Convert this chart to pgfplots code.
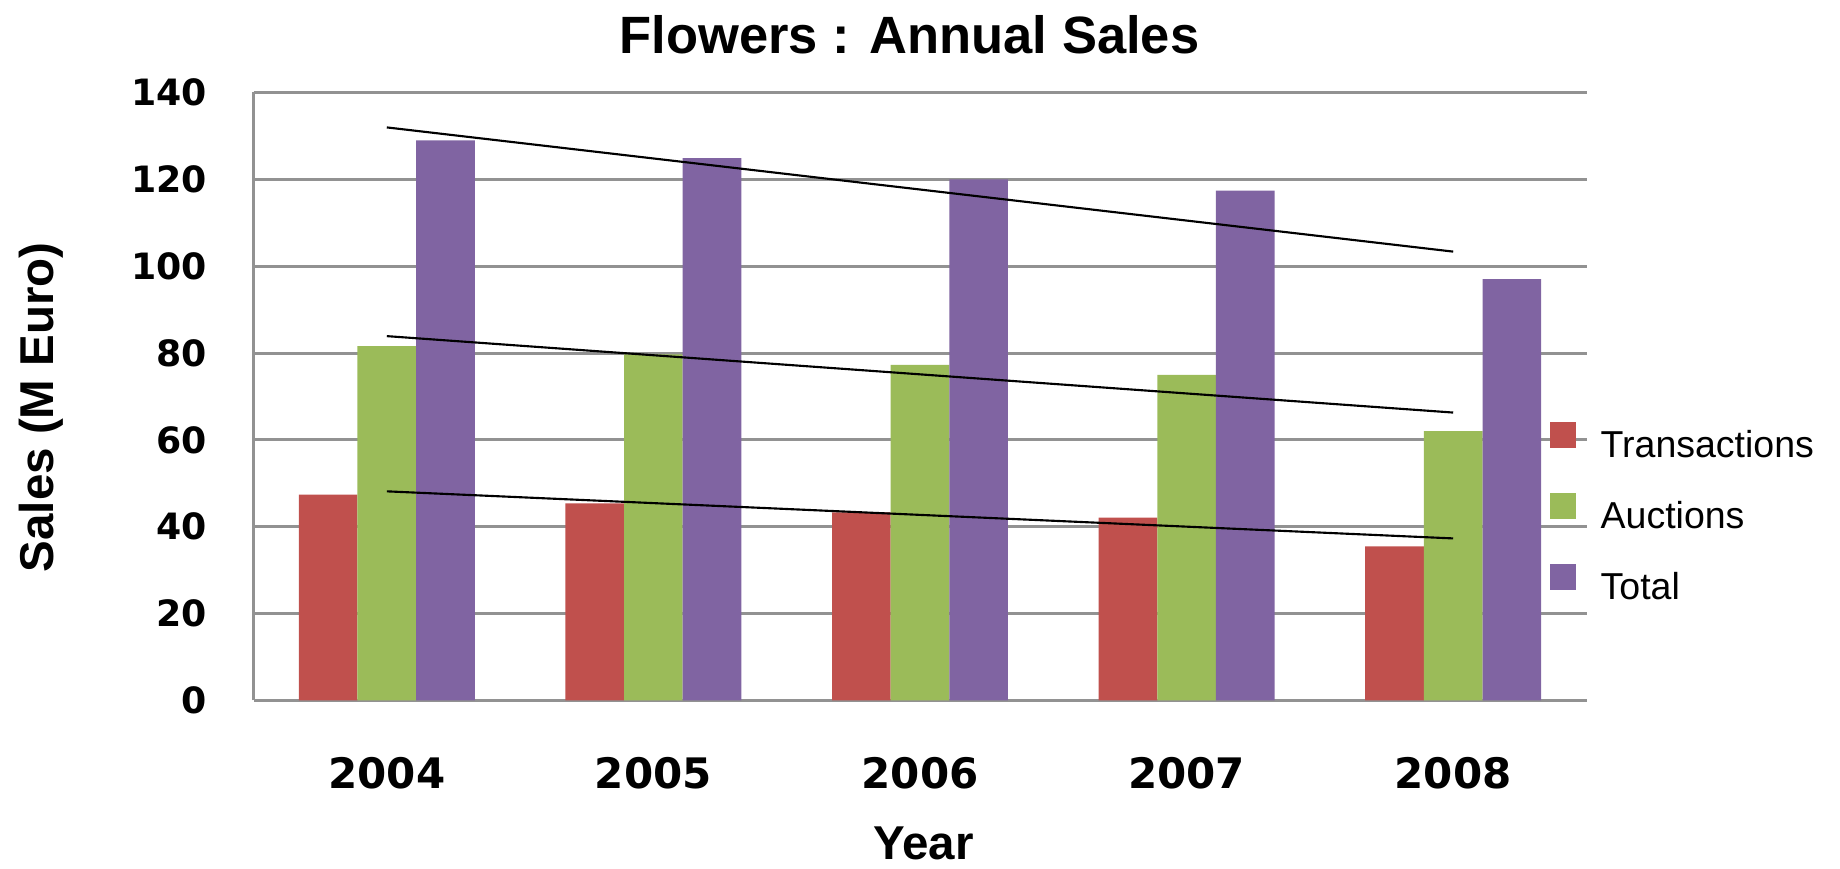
\documentclass[border=0pt]{standalone}
\usepackage{pgfplots}
\pgfplotsset{compat=1.18}
\usepackage{fontspec}
\setmainfont{Liberation Sans}
\newfontfamily\dejavu{DejaVu Sans}
\definecolor{cRed}{HTML}{C0504D}
\definecolor{cGreen}{HTML}{9BBB59}
\definecolor{cPurple}{HTML}{8064A2}
\definecolor{cGrid}{HTML}{929292}
\begin{document}
\begin{tikzpicture}
\path[use as bounding box] (0pt,0pt) rectangle (736pt,347.6pt);
\begin{axis}[
  at={(101.4pt,67.4pt)}, anchor=south west,
  scale only axis, width=533.2pt, height=243.2pt,
  xmin=-0.5, xmax=4.5, ymin=0, ymax=140,
  axis x line*=bottom, axis y line*=left,
  axis line style={cGrid, line width=1.3pt},
  xtick={0,1,2,3,4},
  xticklabels={2004,2005,2006,2007,2008},
  ytick={0,20,40,60,80,100,120,140},
  major tick length=0pt,
  ymajorgrids, major grid style={cGrid, line width=1.2pt},
  /pgf/number format/assume math mode=true,
  xticklabel style={font=\dejavu\bfseries\fontsize{16.8}{18}\selectfont, yshift=-19pt},
  yticklabel style={font=\dejavu\bfseries\fontsize{14.5}{16}\selectfont, xshift=-15pt},
  legend cell align=left,
  legend style={at={(axis description cs:0.972,0.459)}, anchor=north west,
    draw=none, fill=none, inner sep=0pt,
    font=\fontsize{15}{17}\selectfont,
    row sep=10.8pt, column sep=8pt},
  legend image code/.code={\fill[#1,draw=none] (0pt,-1pt) rectangle (10.4pt,9.4pt);},
]
\addplot[ybar, bar width=0.22, bar shift=-0.22, fill=cRed, draw=none]
  coordinates {(0,47.4) (1,45.4) (2,43.3) (3,42.1) (4,35.5)};
\addlegendentry{Transactions}
\addplot[ybar, bar width=0.22, bar shift=0, fill=cGreen, draw=none]
  coordinates {(0,81.6) (1,79.7) (2,77.3) (3,75.0) (4,62.0)};
\addlegendentry{Auctions}
\addplot[ybar, bar width=0.22, bar shift=0.22, fill=cPurple, draw=none]
  coordinates {(0,129.0) (1,124.9) (2,120.0) (3,117.4) (4,97.0)};
\addlegendentry{Total}
\addplot[black, line width=0.85pt, forget plot] coordinates {(0,48.16) (4,37.32)};
\addplot[black, line width=0.85pt, forget plot] coordinates {(0,83.9) (4,66.3)};
\addplot[black, line width=0.85pt, forget plot] coordinates {(0,131.96) (4,103.36)};
\end{axis}
\node[font=\bfseries\fontsize{21}{24}\selectfont] at (363.8pt,333.6pt) {Flowers : Annual Sales};
\node[font=\bfseries\fontsize{19}{22}\selectfont, rotate=90] at (16.4pt,184.7pt) {Sales (M Euro)};
\node[font=\bfseries\fontsize{19}{22}\selectfont] at (369.4pt,10.2pt) {Year};
\end{tikzpicture}
\end{document}
